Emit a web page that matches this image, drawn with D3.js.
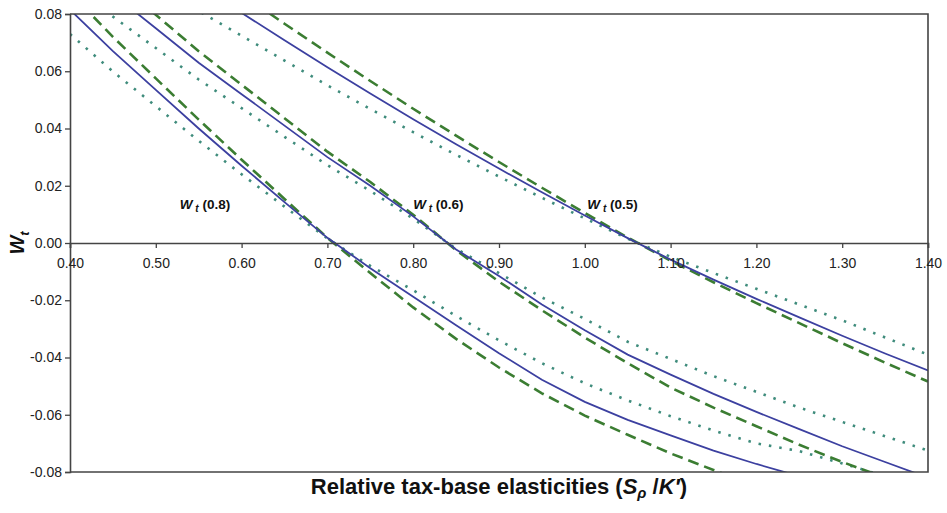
<!DOCTYPE html>
<html>
<head>
<meta charset="utf-8">
<script src="https://cdn.jsdelivr.net/npm/d3@7/dist/d3.min.js"></script>
<style>
  body { margin: 0; background: #fff; }
  svg { display: block; font-family: "Liberation Sans", Arial, sans-serif; }
</style>
</head>
<body>
<svg id="chart" width="947" height="513"></svg>
<script>
// shared x grid (relative tax-base elasticity)
const xValues = [0.40, 0.45, 0.50, 0.55, 0.60, 0.65, 0.70, 0.75, 0.80, 0.85, 0.90,
                 0.95, 1.00, 1.05, 1.10, 1.15, 1.20, 1.25, 1.30, 1.35, 1.40];

const xTicks = [0.40, 0.50, 0.60, 0.70, 0.80, 0.90, 1.00, 1.10, 1.20, 1.30, 1.40];
const yTicks = [-0.08, -0.06, -0.04, -0.02, 0.00, 0.02, 0.04, 0.06, 0.08];

// W_t(0.8)
const solid08  = [0.0815, 0.067, 0.0535, 0.040, 0.027, 0.0143, 0.0018, -0.0088, -0.0188, -0.0287, -0.0385,
                  -0.0478, -0.0555, -0.0618, -0.0672, -0.0725, -0.0772, -0.0815, null, null, null];
const dashed08 = [0.0875, 0.072, 0.0575, 0.0431, 0.0291, 0.0154, 0.0018, -0.0105, -0.0225, -0.0335, -0.0435,
                  -0.0525, -0.0603, -0.067, -0.0735, -0.0793, -0.085, null, null, null, null];
const dotted08 = [0.073, 0.0599, 0.0478, 0.0357, 0.024, 0.0127, 0.0016, -0.008, -0.0165, -0.0255, -0.034,
                  -0.042, -0.049, -0.055, -0.0605, -0.0655, -0.070, -0.0727, -0.077, -0.0815, null];

// W_t(0.6)
const solid06  = [null, 0.087, 0.075, 0.063, 0.052, 0.041, 0.030, 0.020, 0.0093, -0.0023, -0.0115,
                  -0.0215, -0.0305, -0.039, -0.046, -0.0527, -0.059, -0.065, -0.071, -0.0765, -0.082];
const dashed06 = [null, 0.0924, 0.0797, 0.067, 0.0553, 0.0436, 0.0319, 0.0213, 0.0099, -0.0025, -0.0135,
                  -0.0235, -0.033, -0.042, -0.0505, -0.0575, -0.064, -0.0705, -0.0765, -0.082, null];
const dotted06 = [0.090, 0.0791, 0.0681, 0.0571, 0.0471, 0.0371, 0.0272, 0.0182, 0.0085, -0.002, -0.0105,
                  -0.019, -0.0265, -0.0345, -0.0405, -0.0465, -0.052, -0.0575, -0.0625, -0.0675, -0.0725];

// W_t(0.5)
const solid05  = [null, null, null, 0.0898, 0.0804, 0.0708, 0.0614, 0.0522, 0.0432, 0.0345, 0.026,
                  0.0177, 0.0096, 0.0017, -0.0058, -0.0128, -0.0195, -0.026, -0.0324, -0.0386, -0.0445];
const dashed05 = [null, null, null, null, 0.0869, 0.0766, 0.0665, 0.0566, 0.0469, 0.0375, 0.0283,
                  0.0193, 0.0105, 0.0019, -0.0062, -0.0137, -0.021, -0.028, -0.035, -0.0418, -0.0484];
const dotted05 = [null, null, 0.0895, 0.081, 0.0724, 0.0637, 0.0551, 0.0468, 0.0387, 0.0308, 0.0232,
                  0.0158, 0.0086, 0.0015, -0.0048, -0.0105, -0.016, -0.0215, -0.027, -0.033, -0.039];

const groupLabels = [
  { share: "0.8", x: 0.528, y: 0.0118 },
  { share: "0.6", x: 0.800, y: 0.0118 },
  { share: "0.5", x: 1.003, y: 0.0118 }
];

const styles = {
  solid:  { color: "#3c40a0", width: 1.8, dash: null },
  dashed: { color: "#3b7d32", width: 2.6, dash: "11,6" },
  dotted: { color: "#3f8c7c", width: 2.6, dash: "2.5,8" }
};

const series = [
  { values: dotted08, style: "dotted" }, { values: dashed08, style: "dashed" }, { values: solid08, style: "solid" },
  { values: dotted06, style: "dotted" }, { values: dashed06, style: "dashed" }, { values: solid06, style: "solid" },
  { values: dotted05, style: "dotted" }, { values: dashed05, style: "dashed" }, { values: solid05, style: "solid" }
];

const width = 947, height = 513;
const margin = { top: 14, right: 19, bottom: 41, left: 70 };

const svg = d3.select("#chart");

const x = d3.scaleLinear().domain([0.40, 1.40]).range([margin.left, width - margin.right]);
const y = d3.scaleLinear().domain([-0.08, 0.08]).range([height - margin.bottom, margin.top]);

const fmt = d => d.toFixed(2);
const axisColor = "#444";

svg.append("defs").append("clipPath").attr("id", "plot-clip")
  .append("rect")
  .attr("x", x.range()[0]).attr("y", y.range()[1])
  .attr("width", x.range()[1] - x.range()[0])
  .attr("height", y.range()[0] - y.range()[1]);

// lines
const line = d3.line()
  .defined(d => d.y != null)
  .x(d => x(d.x))
  .y(d => y(d.y));

const lineGroup = svg.append("g").attr("clip-path", "url(#plot-clip)");
series.forEach(s => {
  const st = styles[s.style];
  lineGroup.append("path")
    .datum(xValues.map((xv, i) => ({ x: xv, y: s.values[i] })))
    .attr("fill", "none")
    .attr("stroke", st.color)
    .attr("stroke-width", st.width)
    .attr("stroke-dasharray", st.dash)
    .attr("d", line);
});

// frame: top, right, bottom
svg.append("path")
  .attr("fill", "none")
  .attr("stroke", axisColor)
  .attr("stroke-width", 1.6)
  .attr("d", `M${x.range()[0]},${y.range()[1]}H${x.range()[1]}V${y.range()[0]}H${x.range()[0]}`);

// y axis
const yAxis = svg.append("g")
  .attr("transform", `translate(${margin.left},0)`)
  .call(d3.axisLeft(y).tickValues(yTicks).tickFormat(fmt).tickSize(5).tickPadding(3));

// x axis at zero
const xAxis = svg.append("g")
  .attr("transform", `translate(0,${y(0)})`)
  .call(d3.axisBottom(x).tickValues(xTicks).tickFormat(fmt).tickSize(5).tickPadding(10));

[yAxis, xAxis].forEach(g => {
  g.select(".domain").attr("stroke", axisColor).attr("stroke-width", 1.6);
  g.selectAll(".tick line").attr("stroke", axisColor).attr("stroke-width", 1.3);
  g.selectAll(".tick text")
    .attr("fill", "#222")
    .style("font-size", "14px")
    .style("font-family", "'Liberation Sans', Arial, sans-serif");
});

// curve labels
groupLabels.forEach(l => {
  const t = svg.append("text")
    .attr("x", x(l.x))
    .attr("y", y(l.y))
    .attr("fill", "#111")
    .style("font-size", "13.5px")
    .style("font-weight", "bold");
  t.append("tspan").style("font-style", "italic").text("W");
  t.append("tspan").style("font-style", "italic").style("font-size", "10px").attr("dy", 3).text(" t");
  t.append("tspan").attr("dy", -3).text(` (${l.share})`);
});

// y axis title
const yTitle = svg.append("text")
  .attr("transform", `translate(24,${y(0)}) rotate(-90)`)
  .attr("text-anchor", "middle")
  .attr("fill", "#111")
  .style("font-size", "20px")
  .style("font-weight", "bold")
  .style("font-style", "italic");
yTitle.append("tspan").text("W");
yTitle.append("tspan").style("font-size", "13px").attr("dy", 5).text("t");

// x axis title, centred under the plot area
const xTitle = svg.append("text")
  .attr("x", (x.range()[0] + x.range()[1]) / 2)
  .attr("y", 494)
  .attr("text-anchor", "middle")
  .attr("fill", "#111")
  .style("font-size", "22px")
  .style("font-weight", "bold");
xTitle.append("tspan").text("Relative tax-base elasticities (");
xTitle.append("tspan").style("font-style", "italic").text("S");
xTitle.append("tspan").style("font-style", "italic").style("font-size", "15px").attr("dy", 4).text("ρ");
xTitle.append("tspan").attr("dy", -4).text(" /");
xTitle.append("tspan").style("font-style", "italic").text("K′");
xTitle.append("tspan").text(")");
</script>
</body>
</html>
